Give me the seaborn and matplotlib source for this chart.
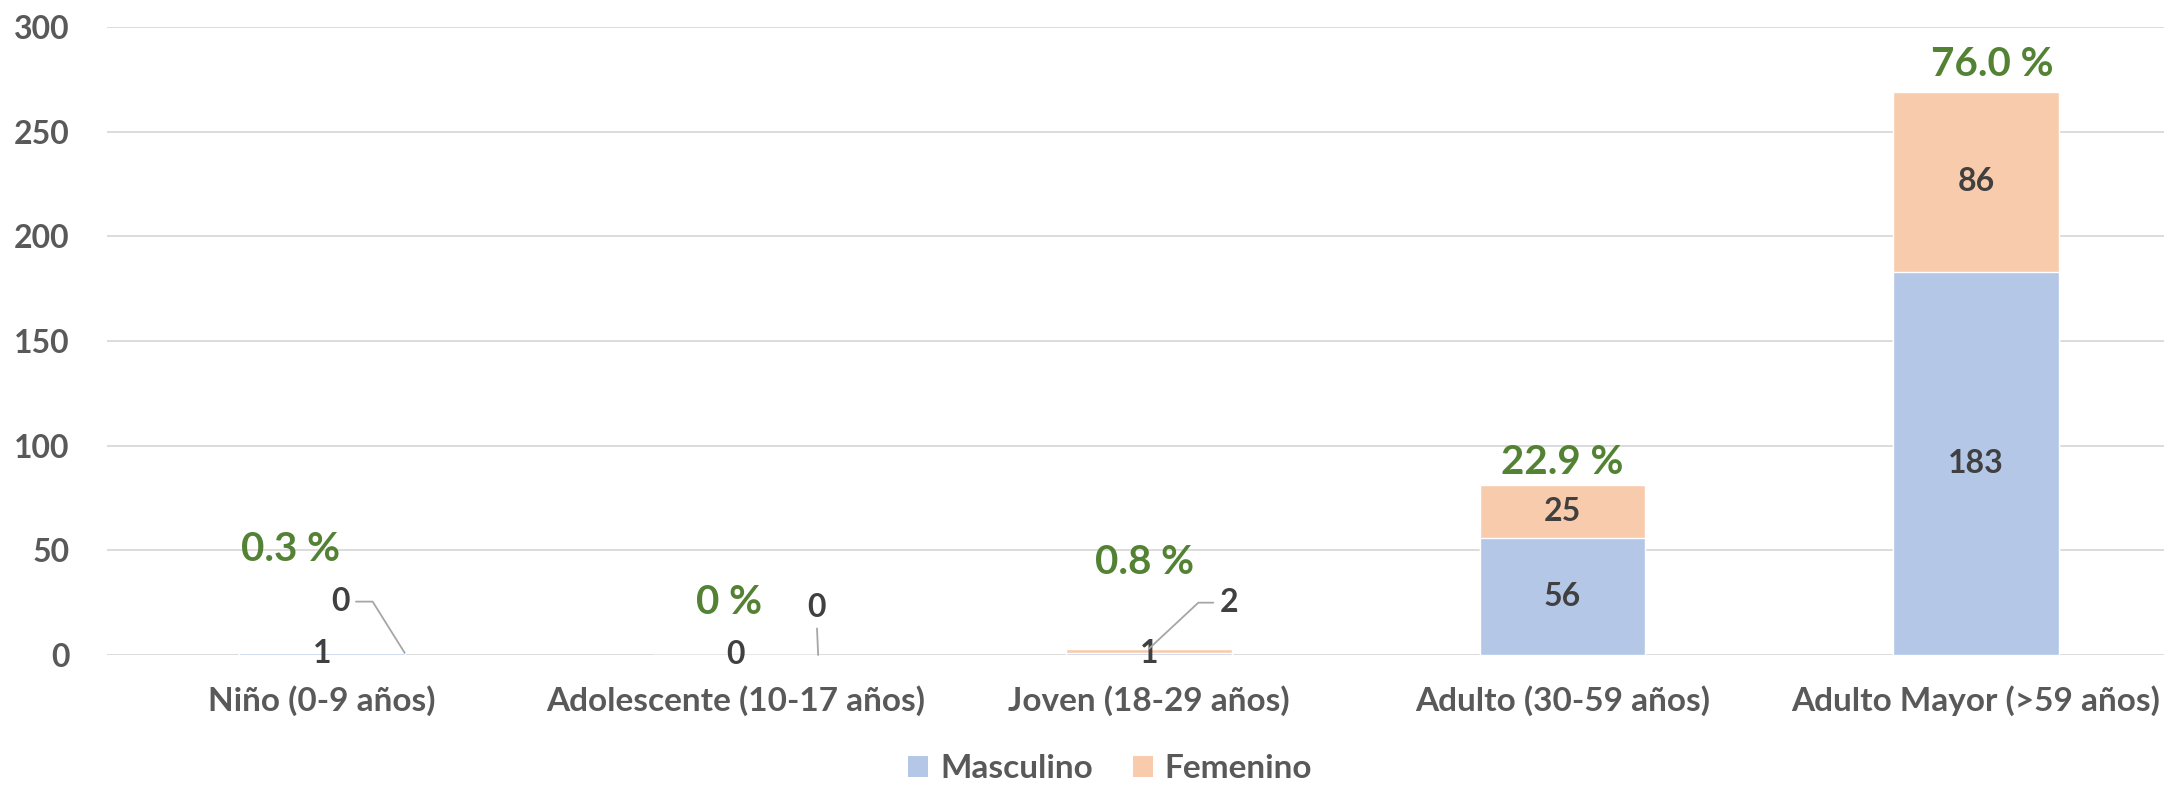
import matplotlib
matplotlib.use("Agg")
import matplotlib.pyplot as plt
import seaborn as sns
import pandas as pd
from matplotlib.patches import Patch

categorias = ["Niño (0-9 años)", "Adolescente (10-17 años)", "Joven (18-29 años)",
              "Adulto (30-59 años)", "Adulto Mayor (>59 años)"]
masculino = [1, 0, 1, 56, 183]
femenino = [0, 0, 2, 25, 86]
porcentajes = ["0.3 %", "0 %", "0.8 %", "22.9 %", "76.0 %"]
yticks = [0, 50, 100, 150, 200, 250, 300]

AZUL = "#B4C7E7"
DURAZNO = "#F8CBAD"
VERDE = "#548235"
GRIS = "#595959"
OSCURO = "#404040"

df = pd.DataFrame({"grupo": categorias, "Masculino": masculino, "Femenino": femenino})
df["total"] = df["Masculino"] + df["Femenino"]

sns.set_theme(style="white")
plt.rcParams["font.family"] = ["Lato", "DejaVu Sans"]
plt.rcParams["font.weight"] = "bold"

fig = plt.figure(figsize=(21.64, 7.86), dpi=100)
ax = fig.add_axes([107 / 2164, 131 / 786, 1 - 107 / 2164, 628 / 786])

# barras apiladas: total (femenino arriba) y luego masculino encima
sns.barplot(data=df, x="grupo", y="total", color=DURAZNO, width=0.4,
            saturation=1, ax=ax, zorder=2)
sns.barplot(data=df, x="grupo", y="Masculino", color=AZUL, width=0.4,
            saturation=1, ax=ax, zorder=3)

ax.set_ylim(0, 300)
ax.set_xlim(-0.52, 4.455)
ax.set_yticks(yticks)
ax.set_xlabel("")
ax.set_ylabel("")
ax.yaxis.grid(True, color="#D9D9D9", linewidth=1.3, zorder=0)
ax.set_axisbelow(True)
for s in ax.spines.values():
    s.set_visible(False)
ax.tick_params(axis="y", length=0, pad=27, labelsize=23, labelcolor=GRIS)
ax.tick_params(axis="x", length=0, pad=22, labelsize=24, labelcolor=GRIS)
for lab in ax.get_xticklabels() + ax.get_yticklabels():
    lab.set_fontweight("bold")

lbl = dict(fontsize=23, fontweight="bold", color=OSCURO, ha="center", va="center",
           zorder=5)
linea = dict(arrowstyle="-", color="#A6A6A6", lw=1.3, shrinkA=2, shrinkB=0)

# etiquetas dentro de barras grandes / centradas
for i in range(len(categorias)):
    m = masculino[i]
    ax.text(i, m / 2, str(m), clip_on=False, **lbl)
    if femenino[i] >= 10:
        ax.text(i, m + femenino[i] / 2, str(femenino[i]), **lbl)

# etiquetas de femenino con línea guía
ax.annotate(str(femenino[0]), xy=(0.2, df["total"][0]), xytext=(0.045, 25.5),
            arrowprops=dict(connectionstyle="angle,angleA=0,angleB=122,rad=0", **linea),
            **lbl)
ax.annotate(str(femenino[1]), xy=(1.2, df["total"][1]), xytext=(1.195, 22.5),
            arrowprops=dict(connectionstyle="arc3", **linea), **lbl)
ax.annotate(str(femenino[2]), xy=(2.0, df["total"][2]), xytext=(2.193, 25),
            arrowprops=dict(connectionstyle="angle,angleA=180,angleB=43,rad=0", **linea),
            **lbl)

# porcentajes
pct_pos = [(-0.075, 50.5), (0.985, 25), (1.99, 44),
           (3.0, df["total"][3] + 11), (4.04, df["total"][4] + 13)]
for (px, py), t in zip(pct_pos, porcentajes):
    ax.text(px, py, t, fontsize=29, fontweight="bold", color=VERDE,
            ha="center", va="center", zorder=5)

handles = [Patch(facecolor=AZUL, edgecolor="none", label="Masculino"),
           Patch(facecolor=DURAZNO, edgecolor="none", label="Femenino")]
leg = fig.legend(handles=handles, loc="center", bbox_to_anchor=(1110 / 2164, 17 / 786),
                 ncol=2, frameon=False, fontsize=24, handlelength=0.6, handleheight=0.6,
                 handletextpad=0.35, columnspacing=1.2)
for t in leg.get_texts():
    t.set_color(GRIS)
    t.set_fontweight("bold")

fig.savefig("out.png", dpi=100)
